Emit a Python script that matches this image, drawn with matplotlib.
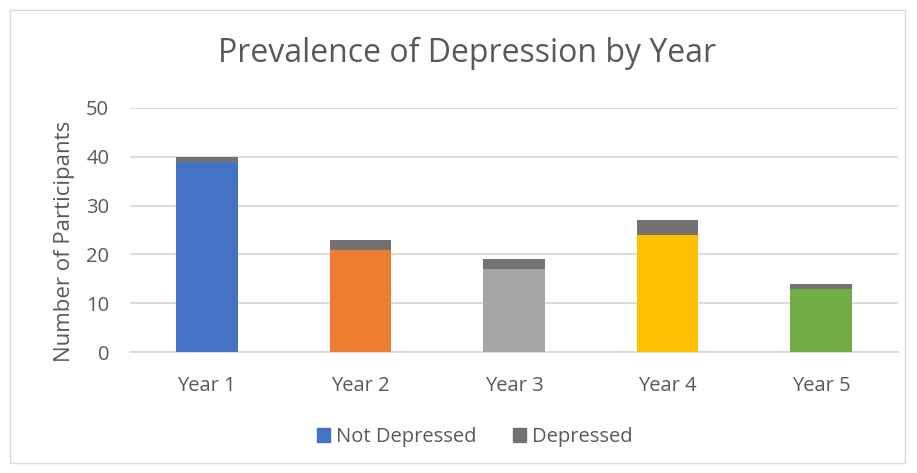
import matplotlib
matplotlib.use("Agg")
import matplotlib.pyplot as plt
from matplotlib.patches import Rectangle, Patch

plt.rcParams['font.family'] = ['Open Sans', 'DejaVu Sans']

years = ["Year 1", "Year 2", "Year 3", "Year 4", "Year 5"]
not_depressed = [39, 21, 17, 24, 13]
depressed = [1, 2, 2, 3, 1]
bar_colors = ["#4472C4", "#ED7D31", "#A5A5A5", "#FFC000", "#70AD47"]
depressed_color = "#767171"
yticks = [0, 10, 20, 30, 40, 50]

text_color = "#595959"
grid_color = "#D9D9D9"

fig = plt.figure(figsize=(9.17, 4.73), dpi=100)
fig.patches.append(Rectangle((10 / 917, 10 / 473), 895 / 917, 453 / 473,
                             transform=fig.transFigure, fill=False,
                             edgecolor=grid_color, linewidth=1))
ax = fig.add_axes([130 / 917, 121 / 473, 768 / 917, 244 / 473])

x = list(range(len(years)))
ax.bar(x, not_depressed, width=0.40, color=bar_colors, zorder=3,
       label="Not Depressed")
ax.bar(x, depressed, width=0.40, bottom=not_depressed, color=depressed_color,
       zorder=3, label="Depressed")

ax.set_xlim(-0.5, len(years) - 0.5)
ax.set_ylim(0, 50)
ax.set_yticks(yticks)
ax.set_xticks(x)
ax.set_xticklabels(years)
ax.yaxis.grid(True, color=grid_color, linewidth=1.3, zorder=0)
ax.set_axisbelow(True)
for s in ["top", "right", "left"]:
    ax.spines[s].set_visible(False)
ax.spines["bottom"].set_color(grid_color)
ax.spines["bottom"].set_linewidth(1.3)
ax.tick_params(axis="both", length=0, labelsize=14.5, colors=text_color)
ax.tick_params(axis="x", pad=17)
ax.tick_params(axis="y", pad=15)

ax.set_ylabel("Number of Participants", fontsize=16, color=text_color)
ax.yaxis.set_label_coords(-0.072, 0.455)
fig.text(467 / 917, 1 - 53 / 473, "Prevalence of Depression by Year",
         ha="center", va="center", fontsize=23, color=text_color)

handles = [Patch(color=bar_colors[0], label="Not Depressed"),
           Patch(color=depressed_color, label="Depressed")]
fig.legend(handles=handles, loc="center", bbox_to_anchor=(475 / 917, 1 - 437 / 473),
           ncol=2, frameon=False, fontsize=14.5, labelcolor=text_color,
           handlelength=0.65, handleheight=0.65, handletextpad=0.3,
           columnspacing=1.8)

fig.savefig("out.png", dpi=100)
